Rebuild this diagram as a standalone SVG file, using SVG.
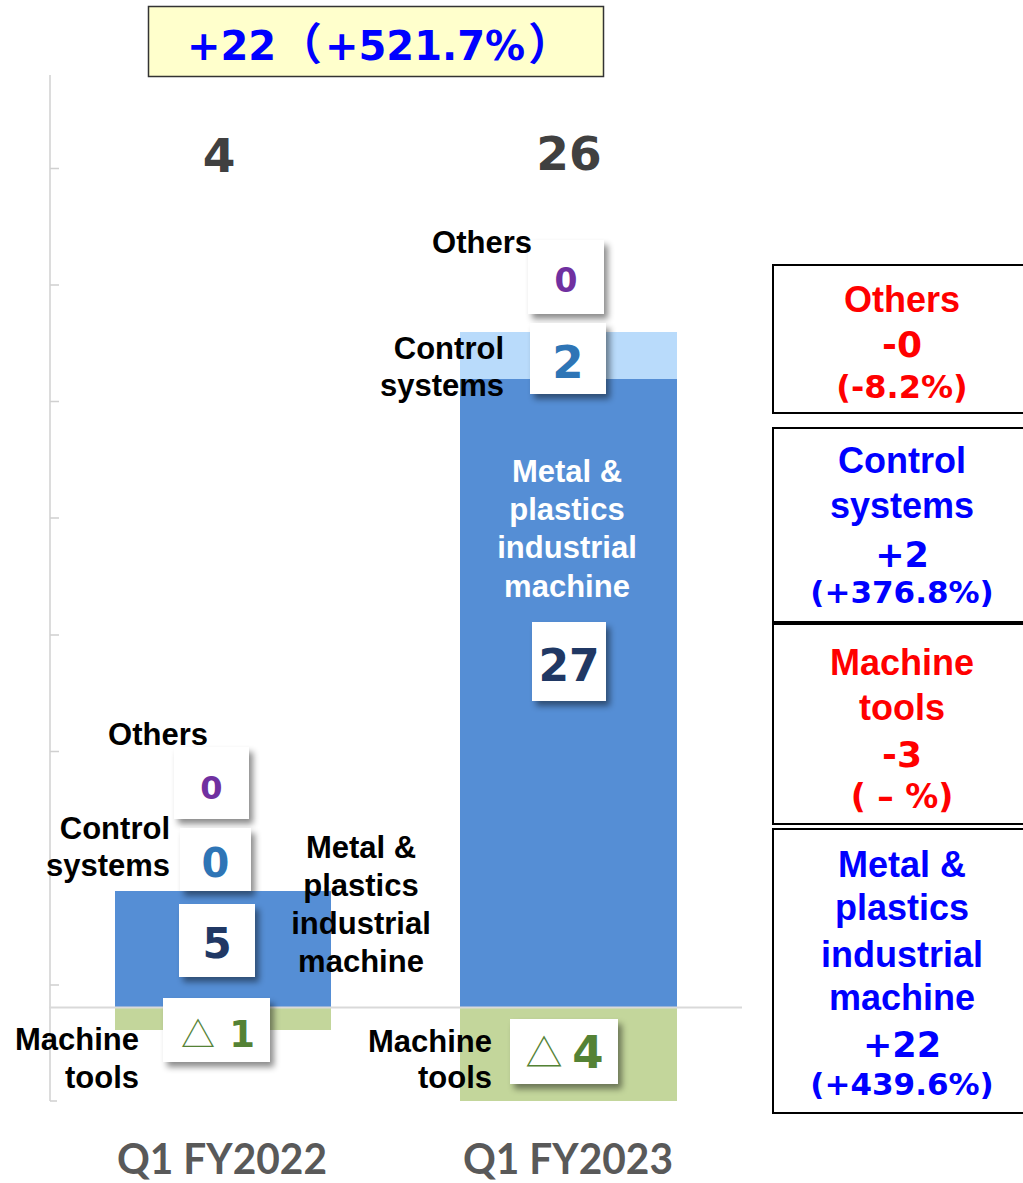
<svg xmlns="http://www.w3.org/2000/svg" width="1023" height="1183" viewBox="0 0 1023 1183">
<defs>
<filter id="sh" x="-30%" y="-30%" width="170%" height="170%">
<feDropShadow dx="4" dy="5" stdDeviation="3" flood-color="#000" flood-opacity="0.45"/>
</filter>
</defs>
<style>
.lbl{font-family:"Liberation Sans",Arial,sans-serif;font-weight:bold;font-size:31px;fill:#000}
.wl{font-family:"Liberation Sans",Arial,sans-serif;font-weight:bold;font-size:31px;fill:#fff}
.num{font-family:"DejaVu Sans",Verdana,sans-serif;font-weight:bold;text-anchor:middle}
.vb{fill:#fff;filter:url(#sh)}
.rb{fill:#fff;stroke:#000;stroke-width:2}
.rt{font-family:"Liberation Sans",Arial,sans-serif;font-weight:bold;font-size:36px;text-anchor:middle}
.rn{font-family:"DejaVu Sans",Verdana,sans-serif;font-weight:bold;text-anchor:middle}
.tot{font-family:"DejaVu Sans",Verdana,sans-serif;font-weight:bold;font-size:47px;fill:#404040;text-anchor:middle}
.cat{font-family:Lato,"Open Sans",sans-serif;font-weight:bold;font-size:42px;fill:#595959}
.ax{stroke:#D0D0D0;stroke-width:1.5;fill:none}
.red{fill:#FF0000}
.blue{fill:#0000FF}
.hd{font-family:"DejaVu Sans",Verdana,sans-serif;font-weight:bold;font-size:40px;fill:#0000FF}
.hp{font-family:"Noto Sans CJK JP",sans-serif;font-weight:bold;font-size:44px}
</style>

<g id="axis">
<line class="ax" x1="50" y1="75" x2="50" y2="1101"/>
<path class="ax" d="M50 168.5H59M50 285H59M50 401.5H59M50 518H59M50 635H59M50 751.5H59M50 868H59M50 985H59M50 1101H57"/>
</g>

<g id="bar-fy2022">
<rect x="115" y="891" width="216" height="116" fill="#558ED5"/>
<rect x="115" y="1007" width="216" height="23" fill="#C3D69B"/>
</g>
<g id="bar-fy2023">
<rect x="460" y="332" width="217" height="47" fill="#B9DBFB"/>
<rect x="460" y="379" width="217" height="628" fill="#558ED5"/>
<rect x="460" y="1007" width="217" height="94" fill="#C3D69B"/>
</g>
<g id="baseline">
<line x1="49" y1="1007.5" x2="742" y2="1007.5" stroke="#D9D9D9" stroke-width="2"/>
</g>

<g id="header">
<rect x="148.5" y="6.5" width="455" height="70" fill="#FFFFCC" stroke="#333" stroke-width="1.5"/>
<text class="hd" y="60"><tspan x="187">+22</tspan><tspan class="hp" x="278">（</tspan><tspan x="325">+521.7%</tspan><tspan class="hp" x="528">）</tspan></text>
</g>

<g id="totals">
<text class="tot" x="219" y="172">4</text>
<text class="tot" x="569" y="170">26</text>
</g>

<g id="val-others-2022">
<rect class="vb" x="174" y="747" width="75" height="72"/>
<text class="num" x="211.5" y="799" font-size="32" fill="#7030A0">0</text>
</g>
<g id="val-control-2022">
<rect class="vb" x="180" y="828" width="71" height="63"/>
<text class="num" x="215.5" y="877" font-size="40" fill="#2E75B6">0</text>
</g>
<g id="val-metal-2022">
<rect class="vb" x="179" y="904" width="76" height="73"/>
<text class="num" x="217" y="958" font-size="42" fill="#203864">5</text>
</g>
<g id="val-mt-2022">
<rect class="vb" x="163" y="998" width="107" height="64"/>
<text x="198" y="1047" font-family="'Noto Sans CJK JP',sans-serif" font-size="34" fill="#548235" text-anchor="middle">△</text>
<text class="num" x="242" y="1047" font-size="37" fill="#548235">1</text>
</g>
<g id="val-others-2023">
<rect class="vb" x="528" y="240" width="76" height="74"/>
<text class="num" x="566" y="292" font-size="33" fill="#7030A0">0</text>
</g>
<g id="val-control-2023">
<rect class="vb" x="530" y="323" width="76" height="71"/>
<text class="num" x="568" y="378" font-size="45" fill="#2E75B6">2</text>
</g>
<g id="val-metal-2023">
<rect class="vb" x="532" y="622" width="74" height="79"/>
<text class="num" x="569" y="681" font-size="44" fill="#203864">27</text>
</g>
<g id="val-mt-2023">
<rect class="vb" x="510" y="1019" width="108" height="65"/>
<text x="544" y="1067" font-family="'Noto Sans CJK JP',sans-serif" font-size="37" fill="#548235" text-anchor="middle">△</text>
<text class="num" x="588" y="1068" font-size="45" fill="#548235">4</text>
</g>

<g id="labels-fy2022">
<text class="lbl" x="158" y="745" text-anchor="middle">Others</text>
<text class="lbl" x="170" y="839" text-anchor="end">Control</text>
<text class="lbl" x="170" y="876" text-anchor="end">systems</text>
<text class="lbl" x="361" y="858" text-anchor="middle">Metal &amp;</text>
<text class="lbl" x="361" y="896" text-anchor="middle">plastics</text>
<text class="lbl" x="361" y="934" text-anchor="middle">industrial</text>
<text class="lbl" x="361" y="972" text-anchor="middle">machine</text>
<text class="lbl" x="139" y="1050" text-anchor="end">Machine</text>
<text class="lbl" x="139" y="1088" text-anchor="end">tools</text>
</g>

<g id="labels-fy2023">
<text class="lbl" x="482" y="253" text-anchor="middle">Others</text>
<text class="lbl" x="504" y="359" text-anchor="end">Control</text>
<text class="lbl" x="504" y="396" text-anchor="end">systems</text>
<text class="wl" x="567" y="482" text-anchor="middle">Metal &amp;</text>
<text class="wl" x="567" y="520" text-anchor="middle">plastics</text>
<text class="wl" x="567" y="558" text-anchor="middle">industrial</text>
<text class="wl" x="567" y="597" text-anchor="middle">machine</text>
<text class="lbl" x="492" y="1052" text-anchor="end">Machine</text>
<text class="lbl" x="492" y="1088" text-anchor="end">tools</text>
</g>

<g id="chg-others">
<rect class="rb" x="773" y="265" width="260" height="148"/>
<text class="rt red" x="902" y="312">Others</text>
<text class="rn red" x="902" y="357" font-size="36">-0</text>
<text class="rn red" x="902" y="398" font-size="32">(-8.2%)</text>
</g>
<g id="chg-control">
<rect class="rb" x="773" y="428" width="260" height="194"/>
<text class="rt blue" x="902" y="473">Control</text>
<text class="rt blue" x="902" y="518">systems</text>
<text class="rn blue" x="902" y="567" font-size="35">+2</text>
<text class="rn blue" x="902" y="603" font-size="31">(+376.8%)</text>
</g>
<g id="chg-mt">
<rect class="rb" x="773" y="624" width="260" height="200"/>
<text class="rt red" x="902" y="675">Machine</text>
<text class="rt red" x="902" y="720">tools</text>
<text class="rn red" x="902" y="767" font-size="36">-3</text>
<text class="rn red" x="902" y="808" font-size="33">( – %)</text>
</g>
<g id="chg-metal">
<rect class="rb" x="773" y="829" width="260" height="284"/>
<text class="rt blue" x="902" y="877">Metal &amp;</text>
<text class="rt blue" x="902" y="920">plastics</text>
<text class="rt blue" x="902" y="967">industrial</text>
<text class="rt blue" x="902" y="1010">machine</text>
<text class="rn blue" x="902" y="1057" font-size="35">+22</text>
<text class="rn blue" x="902" y="1095" font-size="31">(+439.6%)</text>
</g>

<g id="categories">
<text class="cat" x="117" y="1174" textLength="210" lengthAdjust="spacingAndGlyphs">Q1 FY2022</text>
<text class="cat" x="463" y="1174" textLength="210" lengthAdjust="spacingAndGlyphs">Q1 FY2023</text>
</g>
</svg>
